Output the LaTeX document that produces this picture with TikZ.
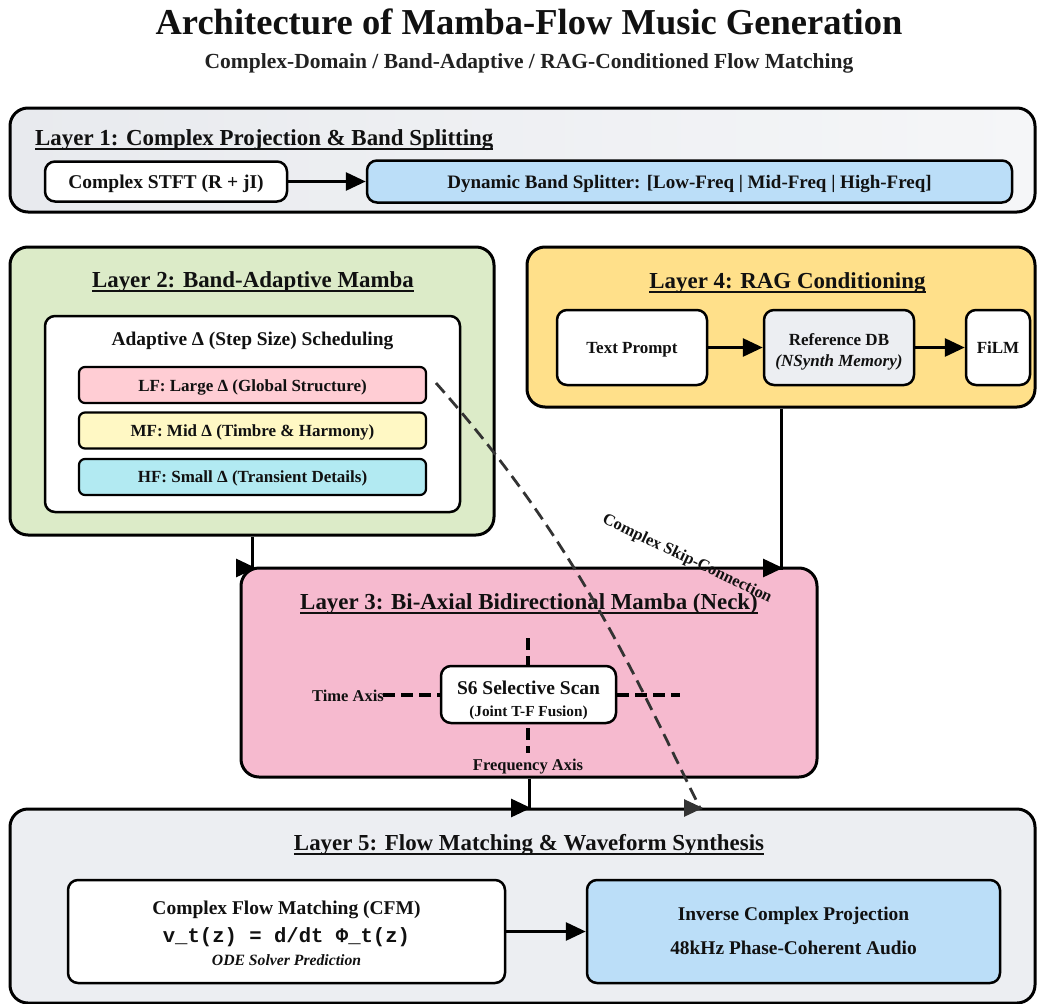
\documentclass[tikz,border=0pt]{standalone}
\usepackage{fontspec}
\setmainfont{Liberation Serif}
\setmonofont{Liberation Mono}
\usetikzlibrary{arrows.meta}

\definecolor{inkblack}{HTML}{111111}
\definecolor{subgray}{HTML}{222222}
\definecolor{panelgrayL}{HTML}{E8EAEE}
\definecolor{panelgrayR}{HTML}{F5F6F8}
\definecolor{mist}{HTML}{ECEEF2}
\definecolor{skyblue}{HTML}{BBDEF8}
\definecolor{sage}{HTML}{DCEBC8}
\definecolor{blush}{HTML}{FFCDD4}
\definecolor{cream}{HTML}{FFF8C4}
\definecolor{aqua}{HTML}{B2EAF2}
\definecolor{amber}{HTML}{FFE08A}
\definecolor{rose}{HTML}{F6BACF}
\definecolor{skipgray}{HTML}{333333}

% font size in pt (1pt = 1px of the drawing)
\newcommand{\setfs}[1]{\fontsize{#1}{#1}\selectfont}
% underline placed a little below the baseline
\newcommand{\ulined}[1]{\setbox0\hbox{#1}\rlap{\rule[-4pt]{\wd0}{1.8pt}}\box0}

\begin{document}
\begin{tikzpicture}[x=1pt,y=-1pt,
  every node/.style={inner sep=0pt, text=inkblack, font=\bfseries},
  layer/.style={draw=black, line width=3pt, rounded corners=18pt},
  panel/.style={draw=black, line width=2.5pt, rounded corners=10pt},
  band/.style={draw=black, line width=2.2pt, rounded corners=6pt},
  flow/.style={draw=black, line width=3pt, -{Triangle[length=20pt,width=18pt]}},
  skip/.style={draw=skipgray, line width=2.8pt, dash pattern=on 13pt off 7pt,
    -{Triangle[length=19pt,width=17pt]}},
  axisline/.style={draw=black, line width=4.5pt, dash pattern=on 12pt off 6pt},
  lbl/.style={anchor=base},
]
\useasboundingbox (0,0) rectangle (1037,1004);
\fill[white] (0,0) rectangle (1037,1004);

% ---------- heading ----------
\node[lbl] (title) at (529,34) {\setfs{36.5}Architecture of Mamba-Flow Music Generation};
\node[lbl, text=subgray] (subtitle) at (529,68) {\setfs{21.5}Complex-Domain / Band-Adaptive / RAG-Conditioned Flow Matching};

% ---------- Layer 1 ----------
\node[layer, left color=panelgrayL, right color=panelgrayR,
      minimum width=1025pt, minimum height=104pt] (L1) at (522.5,160) {};
\node[anchor=base west] (L1t) at (35,145.5) {\setfs{22.9}\ulined{Layer 1: Complex Projection \& Band Splitting}};
\node[panel, fill=white, minimum width=242pt, minimum height=40pt] (stft) at (166,181.5) {};
\node[lbl] (stftT) at (166,188) {\setfs{19.5}Complex STFT (R + jI)};
\node[panel, fill=skyblue, minimum width=645pt, minimum height=42pt] (split) at (689.5,181.5) {};
\node[lbl] (splitT) at (689.5,188) {\setfs{19}Dynamic Band Splitter: [Low-Freq | Mid-Freq | High-Freq]};
\draw[flow] (stft.east) -- (split.west);

% ---------- Layer 2 ----------
\node[layer, fill=sage, minimum width=484pt, minimum height=288pt] (L2) at (252,391) {};
\node[lbl] (L2t) at (253,287.5) {\setfs{22.9}\ulined{Layer 2: Band-Adaptive Mamba}};
\node[panel, fill=white, minimum width=415pt, minimum height=196pt] (sched) at (252.5,414) {};
\node[lbl] (schedT) at (252.5,345.5) {\setfs{19.4}Adaptive Δ (Step Size) Scheduling};
\node[band, fill=blush, minimum width=347pt, minimum height=36pt] (lf) at (252.5,385) {};
\node[lbl] (lfT) at (252.5,391) {\setfs{17}LF: Large Δ (Global Structure)};
\node[band, fill=cream, minimum width=347pt, minimum height=36pt] (mf) at (252.5,430.5) {};
\node[lbl] (mfT) at (252.5,436.3) {\setfs{17}MF: Mid Δ (Timbre \& Harmony)};
\node[band, fill=aqua, minimum width=347pt, minimum height=36pt] (hf) at (252.5,477) {};
\node[lbl] (hfT) at (252.5,482.8) {\setfs{17}HF: Small Δ (Transient Details)};

% ---------- Layer 4 ----------
\node[layer, fill=amber, minimum width=508pt, minimum height=160pt] (L4) at (781,327) {};
\node[lbl] (L4t) at (787.5,288.5) {\setfs{22.9}\ulined{Layer 4: RAG Conditioning}};
\node[panel, fill=white, minimum width=150pt, minimum height=75pt] (prompt) at (632,347.5) {};
\node[lbl] (promptT) at (632,353.6) {\setfs{17}Text Prompt};
\node[panel, fill=mist, minimum width=150pt, minimum height=75pt] (refdb) at (839,347.5) {};
\node[lbl] (refdbT) at (839,345.6) {\setfs{17}Reference DB};
\node[lbl] (refdbS) at (839,366.8) {\setfs{17}\itshape (NSynth Memory)};
\node[panel, fill=white, minimum width=64pt, minimum height=75pt] (film) at (998,347.5) {};
\node[lbl] (filmT) at (998,353.6) {\setfs{17}FiLM};
\draw[flow] (prompt.east) -- (refdb.west);
\draw[flow] (refdb.east) -- (film.west);

% ---------- Layer 3 ----------
\node[layer, fill=rose, minimum width=576pt, minimum height=209pt] (L3) at (529,672.5) {};
\node[lbl] (L3t) at (529,609.5) {\setfs{22.9}\ulined{Layer 3: Bi-Axial Bidirectional Mamba (Neck)}};
\coordinate (timeW) at (383,695);
\coordinate (timeE) at (680,695);
\coordinate (freqN) at (528,638);
\coordinate (freqS) at (528,753);
\draw[axisline] (timeW) -- (timeE);
\draw[axisline] (freqN) -- (freqS);
\node[panel, fill=white, minimum width=175pt, minimum height=57pt] (s6) at (528.5,694.5) {};
\node[lbl] (s6T) at (528.5,694.4) {\setfs{19.5}S6 Selective Scan};
\node[lbl] (s6S) at (528.5,716) {\setfs{15.3}(Joint T-F Fusion)};
\node[anchor=base east] (timeT) at (384,701) {\setfs{16.5}Time Axis};
\node[lbl] (freqT) at (528,770.5) {\setfs{16.5}Frequency Axis};

% ---------- Layer 5 ----------
\node[layer, fill=mist, minimum width=1025pt, minimum height=194pt] (L5) at (522.5,906) {};
\node[lbl] (L5t) at (529,850.5) {\setfs{22.9}\ulined{Layer 5: Flow Matching \& Waveform Synthesis}};
\node[panel, fill=white, minimum width=437pt, minimum height=103pt] (cfm) at (286.5,931.5) {};
\node[lbl] (cfmT) at (286.5,914.5) {\setfs{19.5}Complex Flow Matching (CFM)};
\node[lbl] (cfmEq) at (286.5,942.6) {\setfs{20.6}\ttfamily\bfseries v\_t(z) = d/dt Φ\_t(z)};
\node[lbl] (cfmS) at (286.5,965.3) {\setfs{15.7}\itshape ODE Solver Prediction};
\node[panel, fill=skyblue, minimum width=413pt, minimum height=103pt] (inv) at (793.5,931.5) {};
\node[lbl] (invT) at (793.5,920.5) {\setfs{19.4}Inverse Complex Projection};
\node[lbl] (invS) at (793.5,954.5) {\setfs{19.4}48kHz Phase-Coherent Audio};
\draw[flow] (cfm.east) -- (inv.west);

% ---------- connections between layers ----------
\coordinate (L3inA) at (256,568);
\coordinate (L3inB) at (783,568);
\coordinate (L5in) at (531,808);
\draw[flow] (L2.south) |- (L3inA);
\draw[flow] (L4.south) |- (L3inB);
\draw[flow] (L3.south) |- (L5in);

% complex skip-connection from the low-frequency band
\coordinate (skipS) at (436,383);
\coordinate (skipE) at (703,808);
\draw[skip] (skipS) .. controls (575,540) and (630,666) .. (700,808) -- (skipE);
\node[rotate=-25.6] (skipT) at (687,559) {\setfs{16.5}Complex Skip-Connection};
\end{tikzpicture}
\end{document}
